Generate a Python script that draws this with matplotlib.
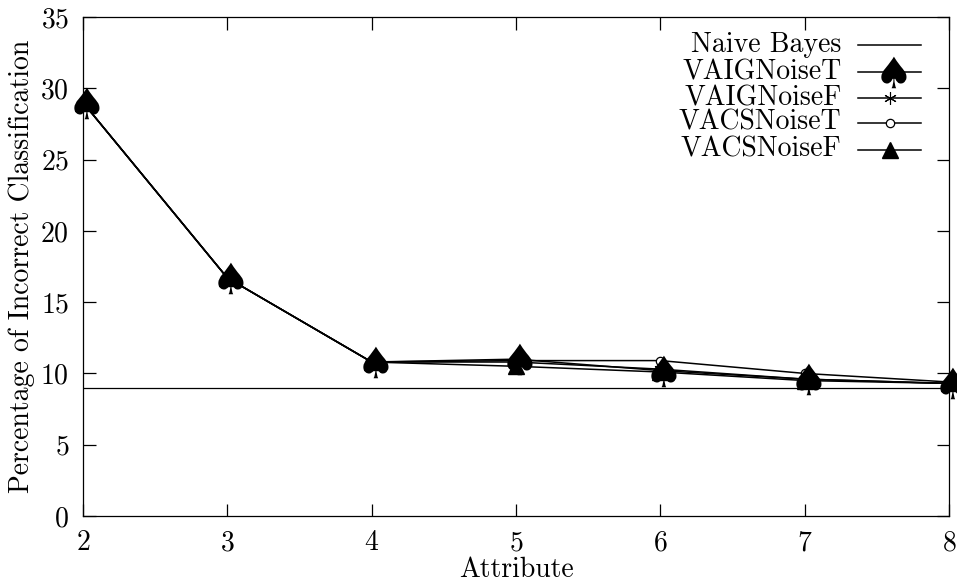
import matplotlib
matplotlib.use("Agg")
import matplotlib.pyplot as plt
from matplotlib.textpath import TextPath
from matplotlib.font_manager import FontProperties
from matplotlib.path import Path
from matplotlib.lines import Line2D
import numpy as np

plt.rcParams['font.family'] = 'cmr10'
plt.rcParams['mathtext.fontset'] = 'cm'
plt.rcParams['axes.formatter.use_mathtext'] = True

# ---- data ----
attributes = [2, 3, 4, 5, 6, 7, 8]
naive_bayes = [9.0, 9.0, 9.0, 9.0, 9.0, 9.0, 9.0]
vaig_noise_t = [29.0, 16.7, 10.8, 11.0, 10.2, 9.6, 9.3]
vaig_noise_f = [29.0, 16.7, 10.8, 10.8, 10.3, 9.6, 9.3]
vacs_noise_t = [29.0, 16.7, 10.8, 10.9, 10.9, 10.0, 9.4]
vacs_noise_f = [29.0, 16.7, 10.8, 10.5, 10.1, 9.5, 9.3]
labels = ["Naive Bayes", "VAIGNoiseT", "VAIGNoiseF", "VACSNoiseT", "VACSNoiseF"]
xticks = [2, 3, 4, 5, 6, 7, 8]
yticks = [0, 5, 10, 15, 20, 25, 30, 35]

# spade marker path
tp = TextPath((0, 0), "\u2660", size=1, prop=FontProperties(family="DejaVu Sans"))
v = tp.vertices.copy()
ctr = (v.min(axis=0) + v.max(axis=0)) / 2
spade = Path(v - ctr, tp.codes)

fig = plt.figure(figsize=(9.57, 5.88), dpi=100)
ax = fig.add_axes([83/957, 1-516/588, 866/957, 499/588])

FS = 20
lw = 1.1
styles = [
    dict(marker=None),
    dict(marker=spade, markersize=23, markerfacecolor='black', markeredgecolor='black', markeredgewidth=0),
    dict(marker=(6, 2, 0), markersize=9, markeredgewidth=0.8, markeredgecolor='black'),
    dict(marker='o', markersize=6, markerfacecolor='white', markeredgecolor='black', markeredgewidth=0.9),
    dict(marker='^', markersize=11, markerfacecolor='black', markeredgecolor='black'),
]
series = [naive_bayes, vaig_noise_t, vaig_noise_f, vacs_noise_t, vacs_noise_f]
zorders = [2, 6, 4, 3, 5]

for s, st, lab, z in zip(series, styles, labels, zorders):
    if st['marker'] is None:
        ax.plot([attributes[0], attributes[-1]], [s[0], s[-1]], color='black', lw=0.9, zorder=z)
    else:
        ax.plot(attributes, s, color='black', lw=lw, clip_on=False, zorder=z, **st)

ax.set_xlim(2, 8)
ax.set_ylim(0, 35)
ax.set_xticks(xticks)
ax.set_yticks(yticks)
ax.tick_params(direction='in', length=9, width=0.9, top=True, right=True, labelsize=FS)
ax.tick_params(axis='x', pad=10)
ax.tick_params(axis='y', pad=10)
for sp in ax.spines.values():
    sp.set_linewidth(0.9)
ax.set_xlabel("Attribute", fontsize=FS, labelpad=0)
ax.set_ylabel("Percentage of Incorrect Classification", fontsize=FS, labelpad=4)

# manual gnuplot-style legend (labels right-justified, sample to the right)
rows_y = [0.944, 0.890, 0.838, 0.788, 0.734]
tx = 0.876
lx0, lx1 = 0.895, 0.968
for yy, st, lab in zip(rows_y, styles, labels):
    ax.text(tx, yy, lab, transform=ax.transAxes, ha='right', va='center', fontsize=FS)
    ax.add_line(Line2D([lx0, lx1], [yy, yy], transform=ax.transAxes, color='black', lw=lw))
    if st['marker'] is not None:
        ax.add_line(Line2D([(lx0 + lx1) / 2], [yy], transform=ax.transAxes, color='black',
                           linestyle='none', **st))

fig.savefig("out.png", dpi=100)
